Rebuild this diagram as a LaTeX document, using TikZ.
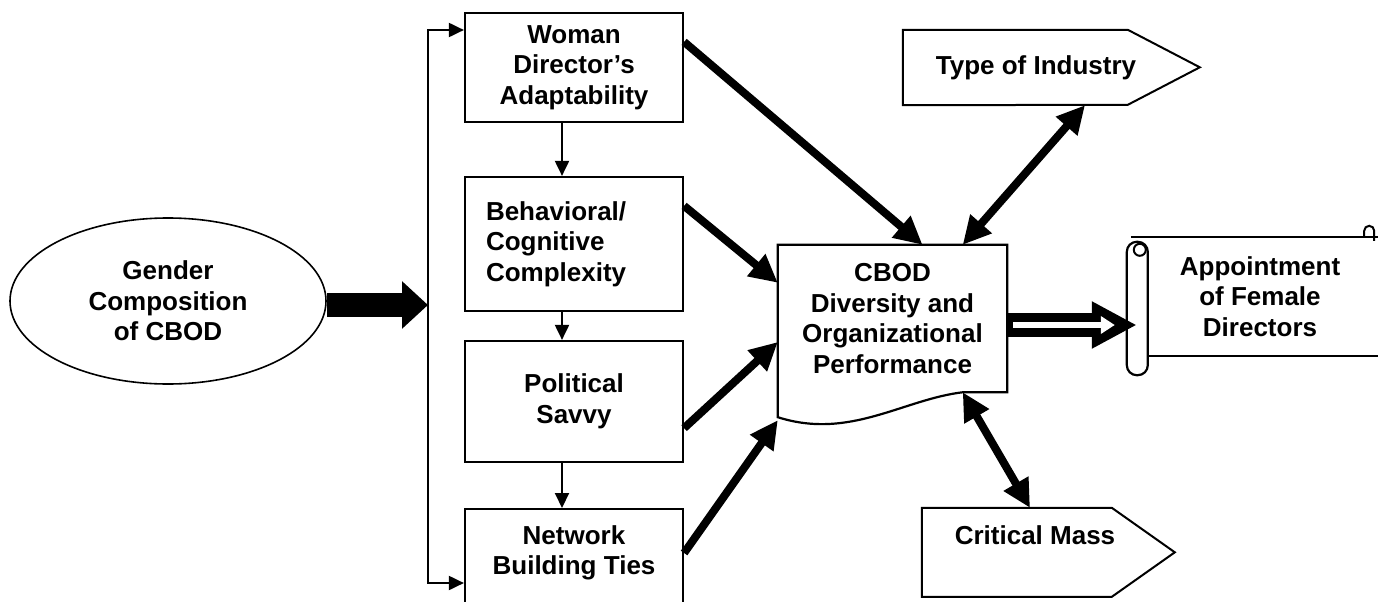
\documentclass[tikz,border=0pt]{standalone}
\usepackage{fontspec}
\setmainfont{Liberation Sans}
\usetikzlibrary{arrows.meta}
\usetikzlibrary{shapes.geometric}

\begin{document}
\begin{tikzpicture}[x=1pt,y=-1pt,
  every node/.style={font=\bfseries\fontsize{26}{30.5}\selectfont, align=center},
  box/.style={draw, line width=2.2pt, inner sep=0pt, minimum width=218pt},
  flow/.style={line width=2pt, -{Triangle[length=15pt,width=14pt]}},
  heavy/.style={line width=8pt, -{Triangle[length=28pt,width=27pt]}},
  twoway/.style={line width=8pt, {Triangle[length=28pt,width=27pt]}-{Triangle[length=28pt,width=27pt]}}]
  \useasboundingbox (0,0) rectangle (1378,602);

  \node[ellipse, draw, line width=1.6pt, minimum width=316pt, minimum height=166pt] (gc) at (168,301) {Gender\\Composition\\of CBOD};

  \node[box, minimum height=109pt] (wda) at (574,67.5) {Woman\\Director’s\\Adaptability};
  \node[box, minimum height=134pt, text width=176pt, align=left] (bcc) at (574,244) {Behavioral/\\Cognitive\\Complexity};
  \node[box, minimum height=121pt] (ps) at (574,401.5) {Political\\Savvy};
  \node[box, minimum height=140pt, anchor=north,
    label={[anchor=north, yshift=-14pt]north:Network\\Building Ties}] (nbt) at (574,508) {};

  \node[minimum width=229pt, minimum height=147pt] (cbod) at (892.5,318.5) {CBOD\\Diversity and\\Organizational\\Performance};
  \node[minimum width=266pt, minimum height=75pt] (toi) at (1036,67.5) {Type of Industry};
  \node[minimum width=226pt, minimum height=54pt] (cm) at (1035,535) {Critical Mass};
  \node[minimum width=246pt, minimum height=119pt] (afd) at (1260,296.5) {Appointment\\of Female\\Directors};

  % pointed signs
  \draw[line width=2pt] (toi.north west) -- ++(225,0) -- ++(72,37.5) -- ++(-72,37.5) -- (toi.south west) -- cycle;
  \draw[line width=2pt] (cm.north west) -- ++(190,0) -- ++(63,44.5) -- ++(-63,44.5) -- ++(-190,0) -- cycle;

  % document outline with the wavy bottom
  \draw[line width=2.2pt] (cbod.north west) -- (cbod.north east) -- (cbod.south east) -- ++(-44,0)
    .. controls +(-60,7) and +(72,23) .. ([yshift=-25pt]cbod.south west) -- cycle;

  % scroll
  \draw[line width=2.2pt] ([xshift=-6pt]afd.north west) -- ([xshift=10pt]afd.north east);
  \draw[line width=2.2pt] ([xshift=11pt]afd.south west) -- ([xshift=10pt]afd.south east);
  \draw[line width=2.2pt, fill=white, rounded corners=10pt] ([shift={(-10,5)}]afd.north west) rectangle ([shift={(11,19)}]afd.south west);
  \draw[line width=2pt] ([shift={(3,13)}]afd.north west) circle[radius=6];
  \draw[line width=2pt] ([xshift=-19pt]afd.north east) -- ++(0,-6) arc[start angle=180,end angle=360,radius=5] -- ++(0,10);

  \coordinate (bt) at (428,30);
  \coordinate (bb) at (428,583);
  \coordinate (bm) at (428,305);

  \draw[line width=24pt, -{Triangle[length=26pt,width=46pt]}] (gc.east |- bm) -- (bm);
  \draw[line width=2pt, {Triangle[length=15pt,width=14pt]}-{Triangle[length=15pt,width=14pt]}]
    (bt -| wda.west) -- (bt) -- (bb) -- (bb -| nbt.west);

  \path[flow]
    ([xshift=-12pt]wda.south) edge ([xshift=-12pt]bcc.north)
    ([xshift=-12pt]bcc.south) edge ([xshift=-12pt]ps.north)
    ([xshift=-12pt]ps.south) edge ([xshift=-12pt]nbt.north);

  \path[heavy]
    ([yshift=-30pt]wda.north east) edge ([xshift=30pt]cbod.north)
    ([yshift=-30pt]bcc.north east) edge ([yshift=-38pt]cbod.north west)
    ([yshift=35pt]ps.south east) edge ([yshift=-23.5pt]cbod.west)
    ([yshift=-45pt]nbt.north east) edge ([yshift=-28pt]cbod.south west);

  \path[twoway]
    ([xshift=-44.5pt]cbod.north east) edge ([xshift=49pt]toi.south)
    ([xshift=-44.5pt]cbod.south east) edge ([xshift=-5pt]cm.north);

  \coordinate (hout) at ([yshift=-6.5pt]cbod.east);
  \coordinate (hin) at (hout -| afd.west);
  \draw[line width=24pt, -{Triangle[length=45pt,width=44pt]}] (hout) -- (hin);
  \draw[white, line width=6pt, -{Triangle[length=14pt,width=17pt]}] ([xshift=6pt]hout) -- ([xshift=-22pt]hin);
\end{tikzpicture}
\end{document}
